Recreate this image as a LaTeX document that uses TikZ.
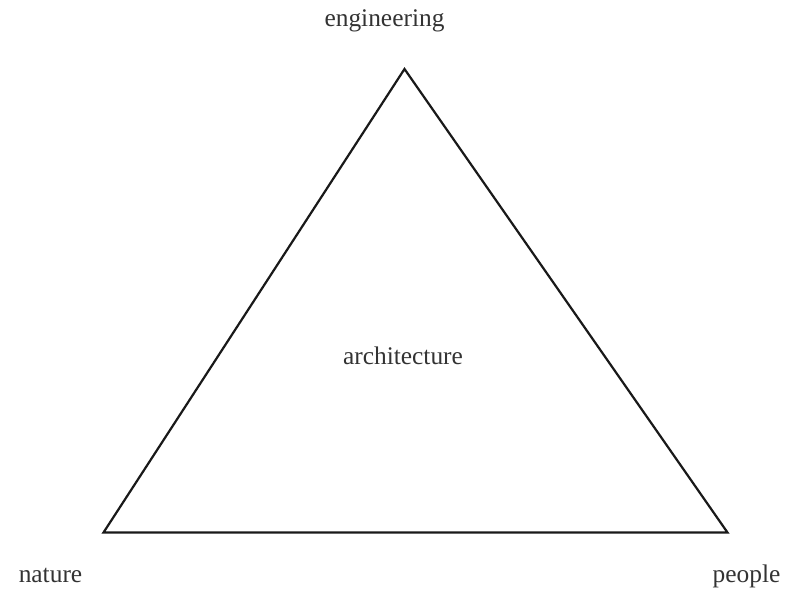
\documentclass[tikz,border=0pt]{standalone}
\usepackage{fontspec}
\setmainfont{Liberation Serif}
\begin{document}
\begin{tikzpicture}[x=1bp,y=-1bp,
  lbl/.style={anchor=base,inner sep=0pt,text=black!80,font=\fontsize{25.5}{28}\selectfont},
  edge/.style={line width=2.2bp,black!90,line join=miter}]
\useasboundingbox (0,0) rectangle (789,595);
\coordinate (top) at (404.5,69);
\coordinate (bl) at (103.5,532.5);
\coordinate (br) at (727.5,532.5);
\draw[edge] (top) -- (bl) -- (br) -- cycle;
\node[lbl] (eng) at (384.5,27) {engineering};
\node[lbl] (arch) at (403,364) {architecture};
\node[lbl] (nat) at (50.5,582.5) {nature};
\node[lbl] (peo) at (746.5,582.5) {people};
\end{tikzpicture}
\end{document}
